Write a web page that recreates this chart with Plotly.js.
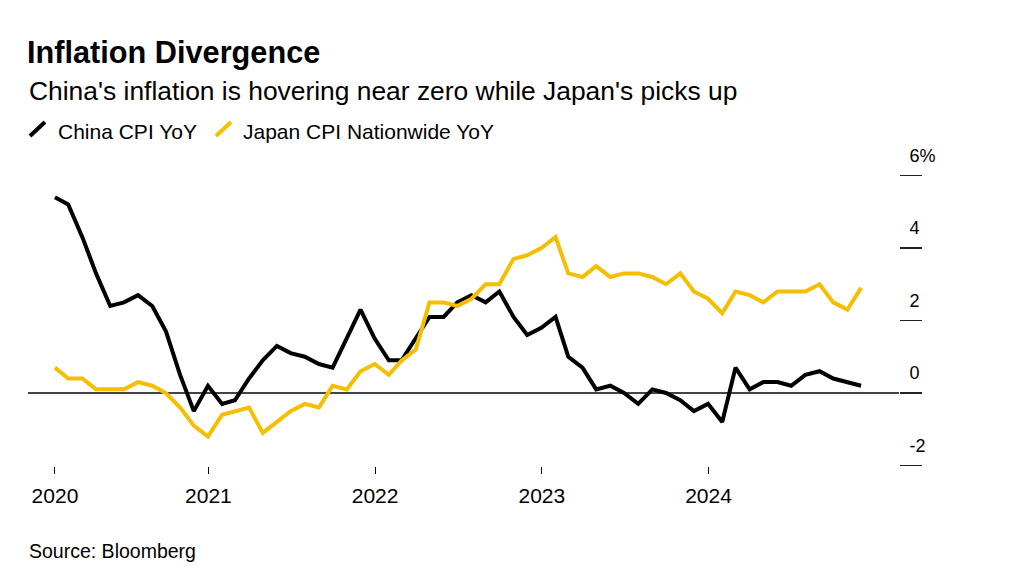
<!DOCTYPE html>
<html>
<head>
<meta charset="utf-8">
<script src="https://cdn.plot.ly/plotly-3.0.1.min.js"></script>
<style>
  html, body { margin: 0; padding: 0; background: #fff; }
  #chart { width: 1013px; height: 570px; }
</style>
</head>
<body>
<div id="chart"></div>
<script>
// ---- Data (monthly, Jan 2020 – Nov 2024, month-end) ----
const startYear = 2020;
const chinaCPI = [
  5.4, 5.2, 4.3, 3.3, 2.4, 2.5, 2.7, 2.4, 1.7, 0.5, -0.5, 0.2,
  -0.3, -0.2, 0.4, 0.9, 1.3, 1.1, 1.0, 0.8, 0.7, 1.5, 2.3, 1.5,
  0.9, 0.9, 1.5, 2.1, 2.1, 2.5, 2.7, 2.5, 2.8, 2.1, 1.6, 1.8,
  2.1, 1.0, 0.7, 0.1, 0.2, 0.0, -0.3, 0.1, 0.0, -0.2, -0.5, -0.3,
  -0.8, 0.7, 0.1, 0.3, 0.3, 0.2, 0.5, 0.6, 0.4, 0.3, 0.2
];
const japanCPI = [
  0.7, 0.4, 0.4, 0.1, 0.1, 0.1, 0.3, 0.2, 0.0, -0.4, -0.9, -1.2,
  -0.6, -0.5, -0.4, -1.1, -0.8, -0.5, -0.3, -0.4, 0.2, 0.1, 0.6, 0.8,
  0.5, 0.9, 1.2, 2.5, 2.5, 2.4, 2.6, 3.0, 3.0, 3.7, 3.8, 4.0,
  4.3, 3.3, 3.2, 3.5, 3.2, 3.3, 3.3, 3.2, 3.0, 3.3, 2.8, 2.6,
  2.2, 2.8, 2.7, 2.5, 2.8, 2.8, 2.8, 3.0, 2.5, 2.3, 2.9
];
const seriesNames = ['China CPI YoY', 'Japan CPI Nationwide YoY'];
const seriesColors = ['#000000', '#f5be00'];
const xTickVals = ['2020-01-31', '2021-01-01', '2022-01-01', '2023-01-01', '2024-01-01'];
const xTickText = ['2020', '2021', '2022', '2023', '2024'];
const yTickVals = [-2, 0, 2, 4, 6];
const yTickText = ['-2', '0', '2', '4', '6%'];
const titleText = 'Inflation Divergence';
const subtitleText = "China's inflation is hovering near zero while Japan's picks up";
const sourceText = 'Source: Bloomberg';

// month-end dates
function monthEnd(i) {
  const d = new Date(Date.UTC(startYear, i + 1, 0));
  return d.toISOString().slice(0, 10);
}
const dates = chinaCPI.map((_, i) => monthEnd(i));

// ---- Layout geometry ----
const W = 1013, H = 570;
const M = { l: 28, r: 114, t: 170, b: 104 };
const PW = W - M.l - M.r, PH = H - M.t - M.b;
const px = x => (x - M.l) / PW;
const py = y => (H - M.b - y) / PH;

const FONT = 'Liberation Sans, Arial, Helvetica, sans-serif';

const traces = [
  { x: dates, y: chinaCPI, name: seriesNames[0], type: 'scatter', mode: 'lines',
    line: { color: seriesColors[0], width: 4 }, hoverinfo: 'x+y' },
  { x: dates, y: japanCPI, name: seriesNames[1], type: 'scatter', mode: 'lines',
    line: { color: seriesColors[1], width: 4 }, hoverinfo: 'x+y' }
];

const layout = {
  width: W, height: H,
  margin: M,
  paper_bgcolor: '#fff', plot_bgcolor: '#fff',
  showlegend: false,
  font: { family: FONT, color: '#000' },
  title: {
    text: '<b>' + titleText + '</b>',
    xref: 'container', yref: 'container',
    x: 27 / W, xanchor: 'left',
    y: 1 - 52 / H, yanchor: 'middle',
    font: { size: 30.7, color: '#000', family: FONT }
  },
  xaxis: {
    type: 'date',
    range: ['2019-12-03', '2025-02-21'],
    tickvals: xTickVals, ticktext: xTickText,
    ticks: 'outside', ticklen: 7, tickwidth: 1, tickcolor: '#000',
    showgrid: false, zeroline: false, showline: false,
    tickfont: { size: 21, color: '#000', family: FONT },
    ticklabelstandoff: 4,
    fixedrange: true
  },
  yaxis: {
    side: 'right',
    range: [-2.014, 6.152],
    tickvals: yTickVals, ticktext: yTickText,
    ticks: 'outside', ticklen: 22, tickwidth: 1.3, tickcolor: '#222',
    showgrid: false, showline: false,
    zeroline: true, zerolinecolor: '#444', zerolinewidth: 1.3,
    tickfont: { size: 18, color: '#000', family: FONT },
    ticklabelshift: -20,
    ticklabelstandoff: -16,
    fixedrange: true
  },
  shapes: [
    { type: 'line', xref: 'paper', yref: 'paper',
      x0: px(30), y0: py(136), x1: px(45), y1: py(122),
      line: { color: seriesColors[0], width: 4 } },
    { type: 'line', xref: 'paper', yref: 'paper',
      x0: px(216), y0: py(136), x1: px(231), y1: py(122),
      line: { color: seriesColors[1], width: 4 } }
  ],
  annotations: [
    { text: subtitleText, xref: 'paper', yref: 'paper', x: px(27), y: py(91),
      xanchor: 'left', yanchor: 'middle', showarrow: false,
      font: { size: 26.4, color: '#000', family: FONT } },
    { text: seriesNames[0], xref: 'paper', yref: 'paper', x: px(56), y: py(131),
      xanchor: 'left', yanchor: 'middle', showarrow: false,
      font: { size: 21, color: '#000', family: FONT } },
    { text: seriesNames[1], xref: 'paper', yref: 'paper', x: px(241), y: py(131),
      xanchor: 'left', yanchor: 'middle', showarrow: false,
      font: { size: 21, color: '#000', family: FONT } },
    { text: sourceText, xref: 'paper', yref: 'paper', x: px(27), y: py(551),
      xanchor: 'left', yanchor: 'middle', showarrow: false,
      font: { size: 19.5, color: '#000', family: FONT } }
  ]
};

Plotly.newPlot('chart', traces, layout, { displayModeBar: false, staticPlot: true });
</script>
</body>
</html>
